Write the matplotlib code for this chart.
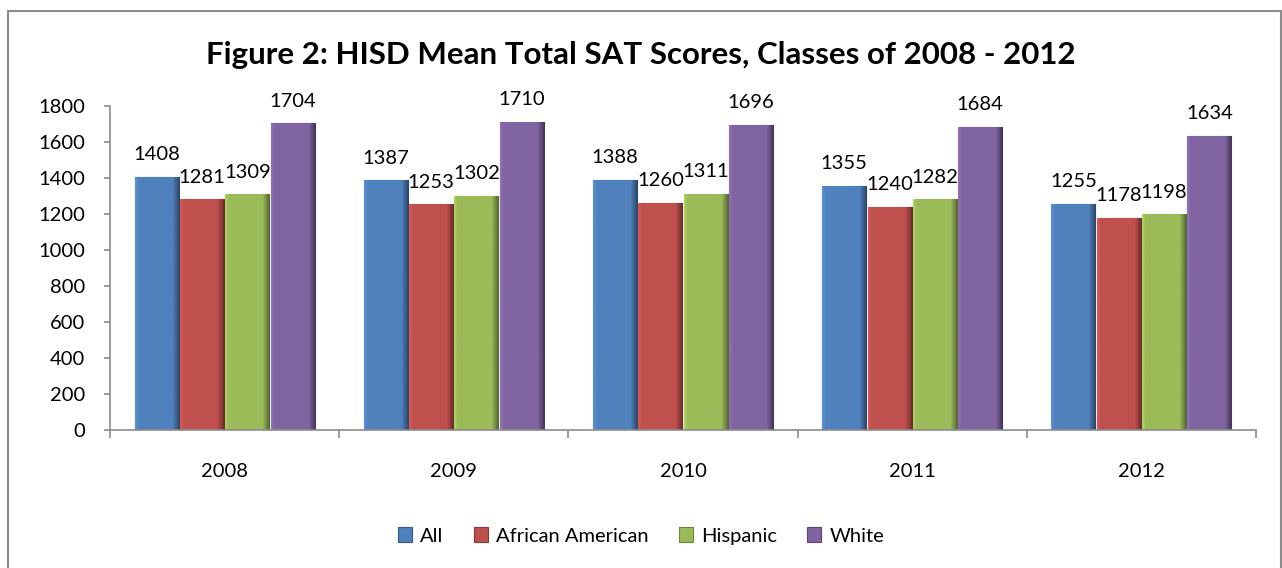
import numpy as np
import matplotlib.pyplot as plt
from matplotlib.patches import Rectangle
from matplotlib.colors import to_rgb

plt.rcParams["font.family"] = ["Lato", "DejaVu Sans"]

# data
years = ["2008", "2009", "2010", "2011", "2012"]
series_names = ["All", "African American", "Hispanic", "White"]
all_scores = [1408, 1387, 1388, 1355, 1255]
african_american = [1281, 1253, 1260, 1240, 1178]
hispanic = [1309, 1302, 1311, 1282, 1198]
white = [1704, 1710, 1696, 1684, 1634]
colors = ["#4F81BD", "#C0504D", "#9BBB59", "#8064A2"]

series = [all_scores, african_american, hispanic, white]

fig = plt.figure(figsize=(12.82, 5.68), dpi=100)
ax = fig.add_axes([110 / 1282, 1 - 430 / 568, (1256 - 110) / 1282, (430 - 106) / 568])

# outer frame of the chart
fig.patches.append(Rectangle((8 / 1282, -0.05), 1273 / 1282, 1.05 - 11 / 568,
                             transform=fig.transFigure, fill=False,
                             edgecolor="#8c8c8c", linewidth=1.5))

x = np.arange(len(years))
width = 0.192
step = 0.198

# bevel profile across the bar width: light left edge, flat face, dark right edge
prof = np.ones(40)
prof[:3] = [1.12, 1.08, 1.04]
prof[-6:] = [0.92, 0.85, 0.78, 0.7, 0.62, 0.55]


def shade(c, f):
    r, g, b = to_rgb(c)
    return (r * f, g * f, b * f)


for i, (name, vals, col) in enumerate(zip(series_names, series, colors)):
    pos = x + (i - 1.5) * step
    bars = ax.bar(pos, vals, width, color=col, edgecolor=shade(col, 0.7),
                  linewidth=0.8, label=name, zorder=2)
    for b, v in zip(bars, vals):
        img = np.array([[np.clip(np.array(to_rgb(col)) * g, 0, 1) for g in prof]])
        im = ax.imshow(img, extent=(b.get_x(), b.get_x() + b.get_width(), 0, v),
                       aspect="auto", zorder=2.5, interpolation="bilinear")
        im.set_clip_path(b)
        ax.annotate(str(v), (b.get_x() + b.get_width() / 2, v),
                    xytext=(0, 16), textcoords="offset points",
                    ha="center", va="center", fontsize=14.5)

ax.set_xlim(-0.5, len(years) - 0.5)
ax.set_ylim(0, 1800)
ax.set_yticks(range(0, 1801, 200))
ax.set_xticks(x)
ax.set_xticklabels(years)
ax.set_xticks(np.arange(-0.5, len(years)), minor=True)

for s in ["top", "right"]:
    ax.spines[s].set_visible(False)
for s in ["left", "bottom"]:
    ax.spines[s].set_color("#8c8c8c")
    ax.spines[s].set_linewidth(1.2)

ax.tick_params(axis="x", which="major", length=0, pad=24, labelsize=14.5)
ax.tick_params(axis="x", which="minor", length=6, color="#8c8c8c", width=1.2)
ax.tick_params(axis="y", length=4, color="#8c8c8c", width=1.2, pad=14, labelsize=14.5)

fig.text(0.5, 1 - 55 / 568, "Figure 2: HISD Mean Total SAT Scores, Classes of 2008 - 2012",
         ha="center", va="center", fontsize=22.5, fontweight="bold")

fig.legend(loc="center", bbox_to_anchor=(0.5, 1 - 536 / 568), ncol=4, frameon=False,
           fontsize=14.5, handlelength=0.7, handleheight=0.7, handletextpad=0.4,
           columnspacing=1.5)

fig.savefig("out.png", dpi=100)
